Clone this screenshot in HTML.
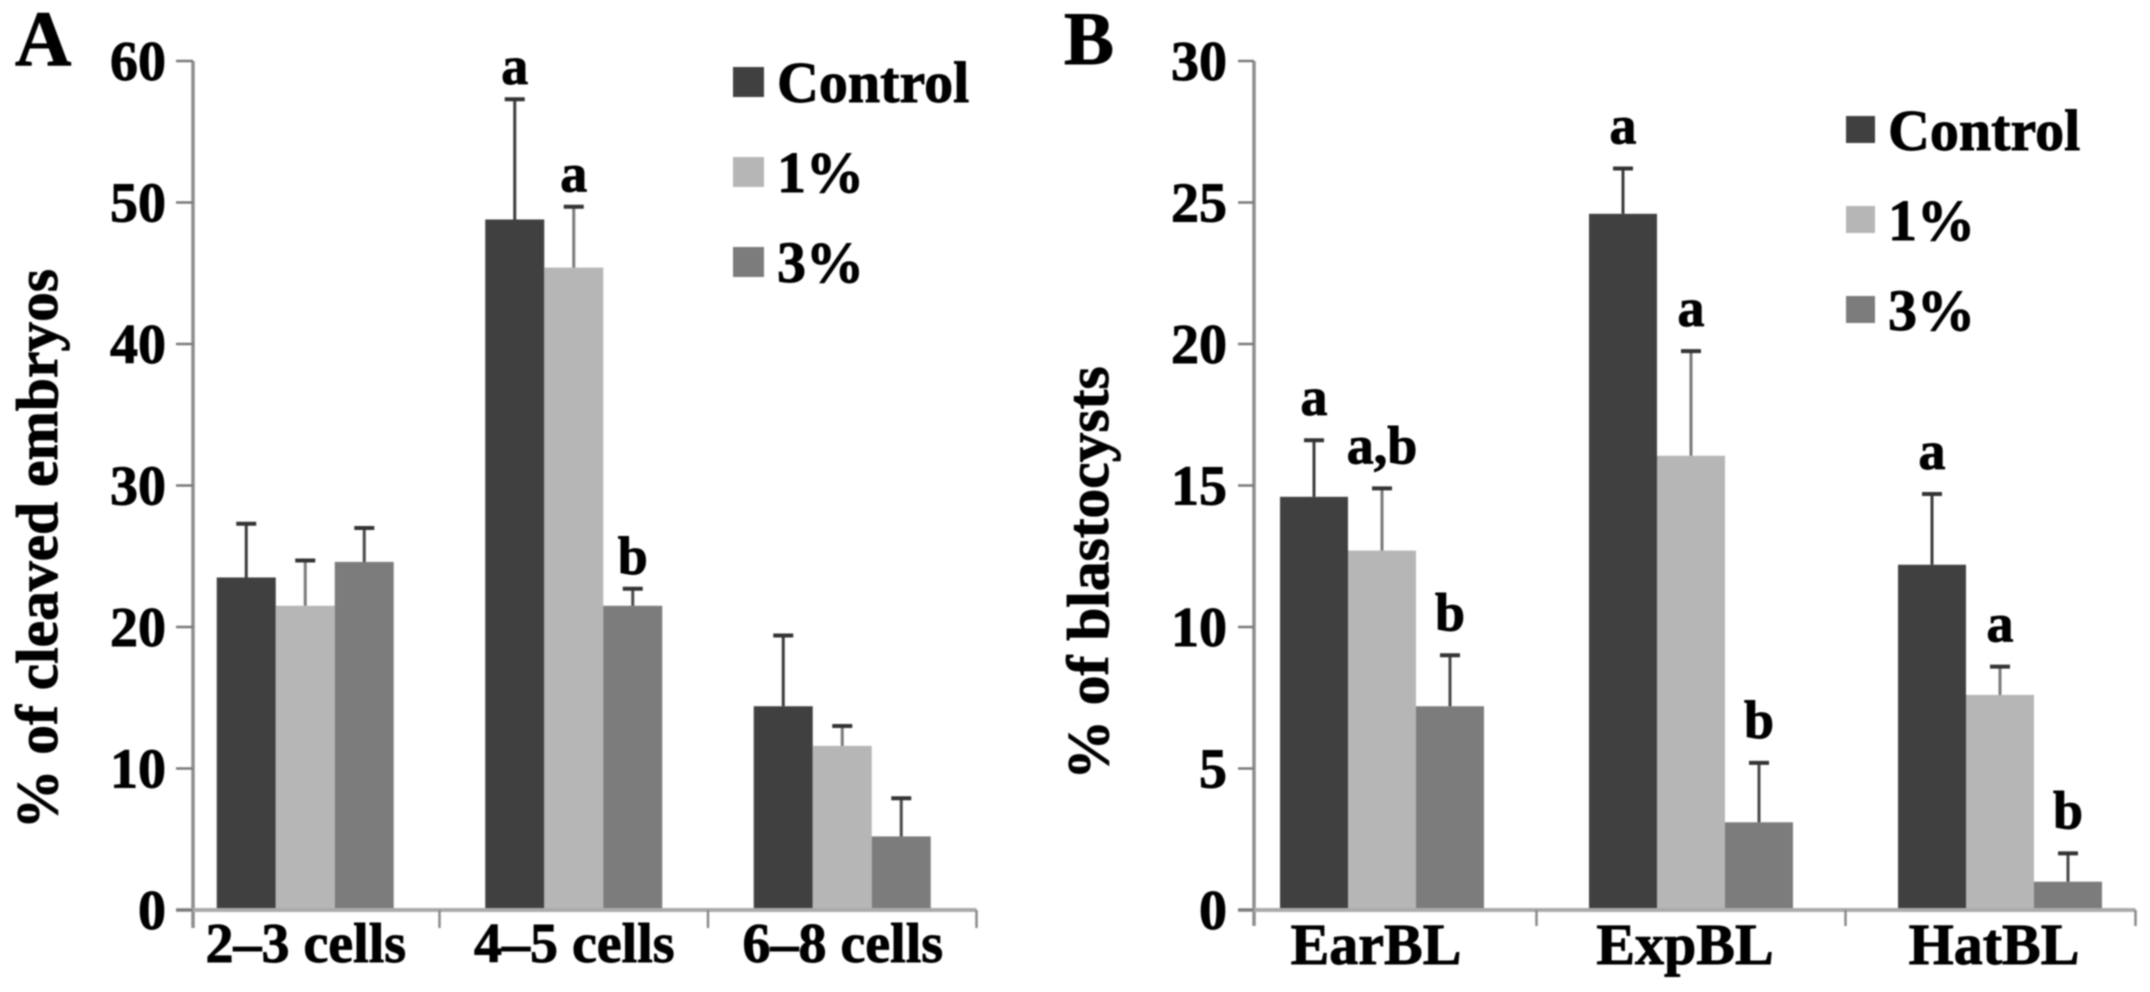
<!DOCTYPE html>
<html lang="en">
<head>
<meta charset="utf-8">
<title>Embryo development bar charts</title>
<style>
  html, body { margin: 0; padding: 0; background: #fff; }
  body { width: 2150px; height: 992px; overflow: hidden; }
  #figure { display: block; filter: blur(0.7px); }
  text { font-family: "Liberation Serif", serif; font-weight: bold; fill: #000; stroke: #000; stroke-width: 0.9px; }
</style>
</head>
<body>
<svg id="figure" xmlns="http://www.w3.org/2000/svg" width="2150" height="992" viewBox="0 0 2150 992"></svg>
<script>
const seriesNames = ['Control', '1%', '3%'];

const cleavedCategories = ['2–3 cells', '4–5 cells', '6–8 cells'];
const cleavedTicks = [0, 10, 20, 30, 40, 50, 60];
const cleavedControl = [23.5, 48.8, 14.4];
const cleavedOnePct = [21.5, 45.4, 11.6];
const cleavedThreePct = [24.6, 21.5, 5.2];
const cleavedControlErr = [3.8, 8.5, 5.0];
const cleavedOnePctErr = [3.2, 4.3, 1.4];
const cleavedThreePctErr = [2.4, 1.2, 2.7];
const cleavedControlSig = ['', 'a', ''];
const cleavedOnePctSig = ['', 'a', ''];
const cleavedThreePctSig = ['', 'b', ''];

const blastCategories = ['EarBL', 'ExpBL', 'HatBL'];
const blastTicks = [0, 5, 10, 15, 20, 25, 30];
const blastControl = [14.6, 24.6, 12.2];
const blastOnePct = [12.7, 16.05, 7.6];
const blastThreePct = [7.2, 3.1, 1.0];
const blastControlErr = [2.0, 1.6, 2.5];
const blastOnePctErr = [2.2, 3.7, 1.0];
const blastThreePctErr = [1.8, 2.1, 1.0];
const blastControlSig = ['a', 'a', 'a'];
const blastOnePctSig = ['a,b', 'a', 'a'];
const blastThreePctSig = ['b', 'b', 'b'];

const seriesColors = ['#404040', '#b6b6b6', '#7c7c7c'];
const errorColors = ['#3c3c3c', '#7a7a7a', '#4a4a4a'];

const svg = document.getElementById('figure');
const NS = 'http://www.w3.org/2000/svg';

function make(tag, props, parent, content) {
  const el = document.createElementNS(NS, tag);
  for (const k in props) el.setAttribute(k, props[k]);
  if (content !== undefined) el.textContent = content;
  parent.appendChild(el);
  return el;
}

function drawPanel(p) {
  const g = make('g', {}, svg);
  
  

  const yScale = function (v) { return p.y0 - (v / p.yMax) * (p.y0 - p.yTop); };
  const groupCenter = function (i) { return p.bandStart + p.band * (i + 0.5); };
  const barLeft = function (i, s) { return groupCenter(i) + (s - 1.5) * p.barStep; };

  const letter = make('text', { x: p.letterX, y: p.letterY, 'font-size': p.letterSize }, g, p.letter);
  
  

  const title = make('text', {
    transform: 'translate(' + p.titleX + ',' + p.titleY + ') rotate(-90)',
    'text-anchor': 'middle', 'font-size': 59.5
  }, g, p.title);
  
  

  // bars
  p.series.forEach(function (values, s) {
    values.forEach(function (v, i) {
      const top = yScale(v);
      const bar = make('rect', {
        x: barLeft(i, s), y: top, width: p.barStep, height: p.y0 - top, fill: seriesColors[s]
      }, g);
      
      
    });
  });

  // axes
  const yAxis = make('line', {
    x1: p.axisX, x2: p.axisX, y1: yScale(p.yMax), y2: p.tickBottom, stroke: '#8e8e8e', 'stroke-width': 3.5
  }, g);
  
  

  const xAxis = make('line', {
    x1: p.tickStart, x2: p.axisEnd, y1: p.y0, y2: p.y0, stroke: '#ababab', 'stroke-width': 4
  }, g);
  
  

  p.ticks.forEach(function (t) {
    const y = yScale(t);
    const mark = make('line', {
      x1: p.tickStart, x2: p.axisX, y1: y, y2: y, stroke: '#7a7a7a', 'stroke-width': 2.5
    }, g);
    
    
    const label = make('text', {
      x: p.tickLabelX, y: y + 19, 'text-anchor': 'end', 'font-size': 56
    }, g, String(t));
    
    
  });

  p.categories.forEach(function (c, i) {
    const right = i === p.categories.length - 1 ? p.axisEnd : p.bandStart + p.band * (i + 1);
    const tick = make('line', {
      x1: right, x2: right, y1: p.y0, y2: p.tickBottom, stroke: '#8a8a8a', 'stroke-width': 2.5
    }, g);
    
    
    const label = make('text', {
      x: groupCenter(i) + p.catDx, y: p.catY, 'text-anchor': 'middle', 'font-size': p.catSize
    }, g, c);
    
    
  });

  // error bars and significance letters
  p.series.forEach(function (values, s) {
    values.forEach(function (v, i) {
      const cx = barLeft(i, s) + p.barStep / 2;
      const top = yScale(v + p.errors[s][i]);
      const stem = make('line', {
        x1: cx, x2: cx, y1: yScale(v), y2: top, stroke: errorColors[s], 'stroke-width': 3
      }, g);
      
      
      const cap = make('line', {
        x1: cx - 10, x2: cx + 10, y1: top, y2: top, stroke: '#333', 'stroke-width': 4
      }, g);
      
      
      const sig = p.sig[s][i];
      if (sig) {
        const mark = make('text', {
          x: cx, y: top - p.sigGap, 'text-anchor': 'middle', 'font-size': 54
        }, g, sig);
        
        
      }
    });
  });

  // legend
  seriesNames.forEach(function (n, s) {
    const swatch = make('rect', {
      x: p.legendX, y: p.legendY + s * 90, width: p.swatchW, height: p.swatchH, fill: seriesColors[s]
    }, g);
    
    
    const label = make('text', {
      x: p.legendTextX, y: p.legendBase + s * 90, 'font-size': 58
    }, g, n);
    
    
  });
}

drawPanel({
  name: 'panel-a-chart', letter: 'A', letterX: 15, letterY: 65, letterSize: 78,
  title: '% of cleaved embryos', titleX: 57, titleY: 549,
  categories: cleavedCategories, ticks: cleavedTicks, yMax: 60,
  series: [cleavedControl, cleavedOnePct, cleavedThreePct],
  errors: [cleavedControlErr, cleavedOnePctErr, cleavedThreePctErr],
  sig: [cleavedControlSig, cleavedOnePctSig, cleavedThreePctSig], sigGap: 15,
  y0: 910, yTop: 61, axisX: 193, tickStart: 176, tickLabelX: 166, tickBottom: 928,
  bandStart: 171, band: 268.5, barStep: 59, axisEnd: 976.5,
  catY: 962, catSize: 56, catDx: 0.5,
  legendX: 733, legendY: 67, swatchW: 31, swatchH: 30, legendTextX: 777, legendBase: 102
});

drawPanel({
  name: 'panel-b-chart', letter: 'B', letterX: 1064, letterY: 64, letterSize: 75,
  title: '% of blastocysts', titleX: 1108, titleY: 573,
  categories: blastCategories, ticks: blastTicks, yMax: 30,
  series: [blastControl, blastOnePct, blastThreePct],
  errors: [blastControlErr, blastOnePctErr, blastThreePctErr],
  sig: [blastControlSig, blastOnePctSig, blastThreePctSig], sigGap: 25,
  y0: 910, yTop: 61, axisX: 1254, tickStart: 1238, tickLabelX: 1227, tickBottom: 926,
  bandStart: 1227.5, band: 309, barStep: 68, axisEnd: 2135.5,
  catY: 964, catSize: 58, catDx: -6,
  legendX: 1846, legendY: 116, swatchW: 29, swatchH: 27, legendTextX: 1888, legendBase: 150
});
</script>
</body>
</html>
